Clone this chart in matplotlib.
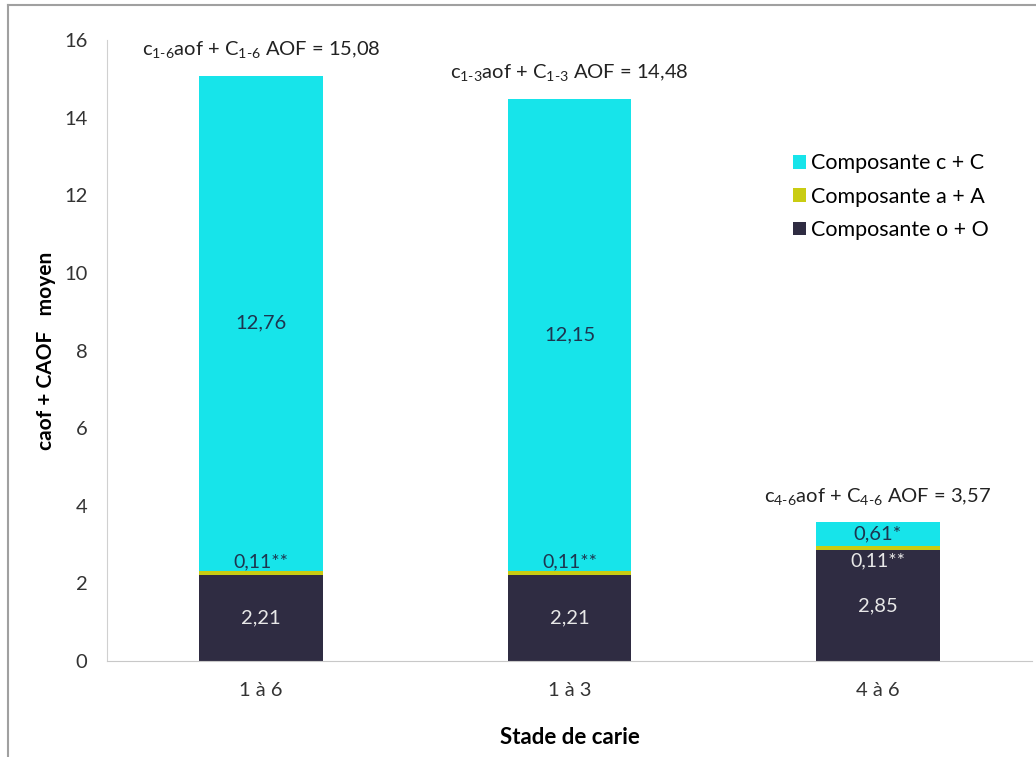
import numpy as np
import matplotlib.pyplot as plt
from matplotlib.lines import Line2D

plt.rcParams['font.family'] = ['Lato', 'DejaVu Sans']
plt.rcParams['mathtext.fontset'] = 'custom'
plt.rcParams['mathtext.rm'] = 'Lato'
plt.rcParams['mathtext.default'] = 'regular'

# donnees
stades = ['1 à 6', '1 à 3', '4 à 6']
comp_o = [2.21, 2.21, 2.85]
comp_a = [0.11, 0.11, 0.11]
comp_c = [12.76, 12.15, 0.61]
totaux = ['15,08', '14,48', '3,57']
indices = ['1', '6', '1', '3', '4', '6']
lab_o = ['2,21', '2,21', '2,85']
lab_a = ['0,11**', '0,11**', '0,11**']
lab_c = ['12,76', '12,15', '0,61*']

col_c = '#17E4EA'
col_a = '#C9CC12'
col_o = '#2F2C42'

fig = plt.figure(figsize=(10.36, 7.57), dpi=100)
ax = fig.add_axes([107/1036, 1-661/757, 925/1036, 621/757])

x = np.arange(len(stades))
o = np.array(comp_o)
a = np.array(comp_a)
c = np.array(comp_c)
w = 0.4
ax.bar(x, o, w, color=col_o, label='Composante o + O')
ax.bar(x, a, w, bottom=o, color=col_a, label='Composante a + A')
ax.bar(x, c, w, bottom=o + a, color=col_c, label='Composante c + C')

ax.set_xlim(-0.5, 2.5)
ax.set_ylim(0, 16)
ax.set_yticks(range(0, 17, 2))
ax.set_xticks(x)
ax.set_xticklabels(stades)
ax.tick_params(axis='both', length=0, labelsize=14.5, colors='#333333')
ax.tick_params(axis='x', pad=15)
ax.tick_params(axis='y', pad=14)
for s in ['top', 'right']:
    ax.spines[s].set_visible(False)
ax.spines['left'].set_color('#d0d0d0')
ax.spines['bottom'].set_color('#c8c8c8')

ax.set_ylabel('caof + CAOF   moyen', fontsize=15, fontweight='bold', labelpad=6)
ax.set_xlabel('Stade de carie', fontsize=16, fontweight='bold', labelpad=20)

for i in range(len(stades)):
    tot = o[i] + a[i] + c[i]
    s1 = indices[2*i] + r'\text{-}' + indices[2*i+1]
    t = 'c$_{%s}$aof + C$_{%s}$ AOF = %s' % (s1, s1, totaux[i])
    ax.annotate(t, (x[i], tot), xytext=(0, 19), textcoords='offset points',
                ha='center', va='center', fontsize=14.5, color='#222222')
    ax.text(x[i], o[i] / 2, lab_o[i], ha='center', va='center',
            fontsize=14.5, color='#e8e8e8')
    ax.text(x[i], o[i] + a[i] + c[i] / 2, lab_c[i], ha='center', va='center',
            fontsize=14.5, color='#1d3550')
    if c[i] > 2:
        ax.annotate(lab_a[i], (x[i], o[i] + a[i]), xytext=(0, 0.5),
                    textcoords='offset points', ha='center', va='bottom',
                    fontsize=14, color='#1d3550')
    else:
        ax.annotate(lab_a[i], (x[i], o[i]), xytext=(0, -1.5),
                    textcoords='offset points', ha='center', va='top',
                    fontsize=14, color='#e8e8e8')

h, l = ax.get_legend_handles_labels()
fig.legend(h[::-1], l[::-1], loc='upper left', bbox_to_anchor=(774/1036, 1-134/757),
           frameon=False, fontsize=15.5, handlelength=0.6, handleheight=0.6,
           handletextpad=0.2, labelspacing=0.62)

# cadre du graphique
fig.add_artist(Line2D([8/1036, 8/1036], [0, 1-5/757], transform=fig.transFigure,
                      color='#a0a0a0', lw=1.5))
fig.add_artist(Line2D([8/1036, 1], [1-5/757, 1-5/757], transform=fig.transFigure,
                      color='#a0a0a0', lw=1.5))

fig.savefig('out.png', dpi=100)
